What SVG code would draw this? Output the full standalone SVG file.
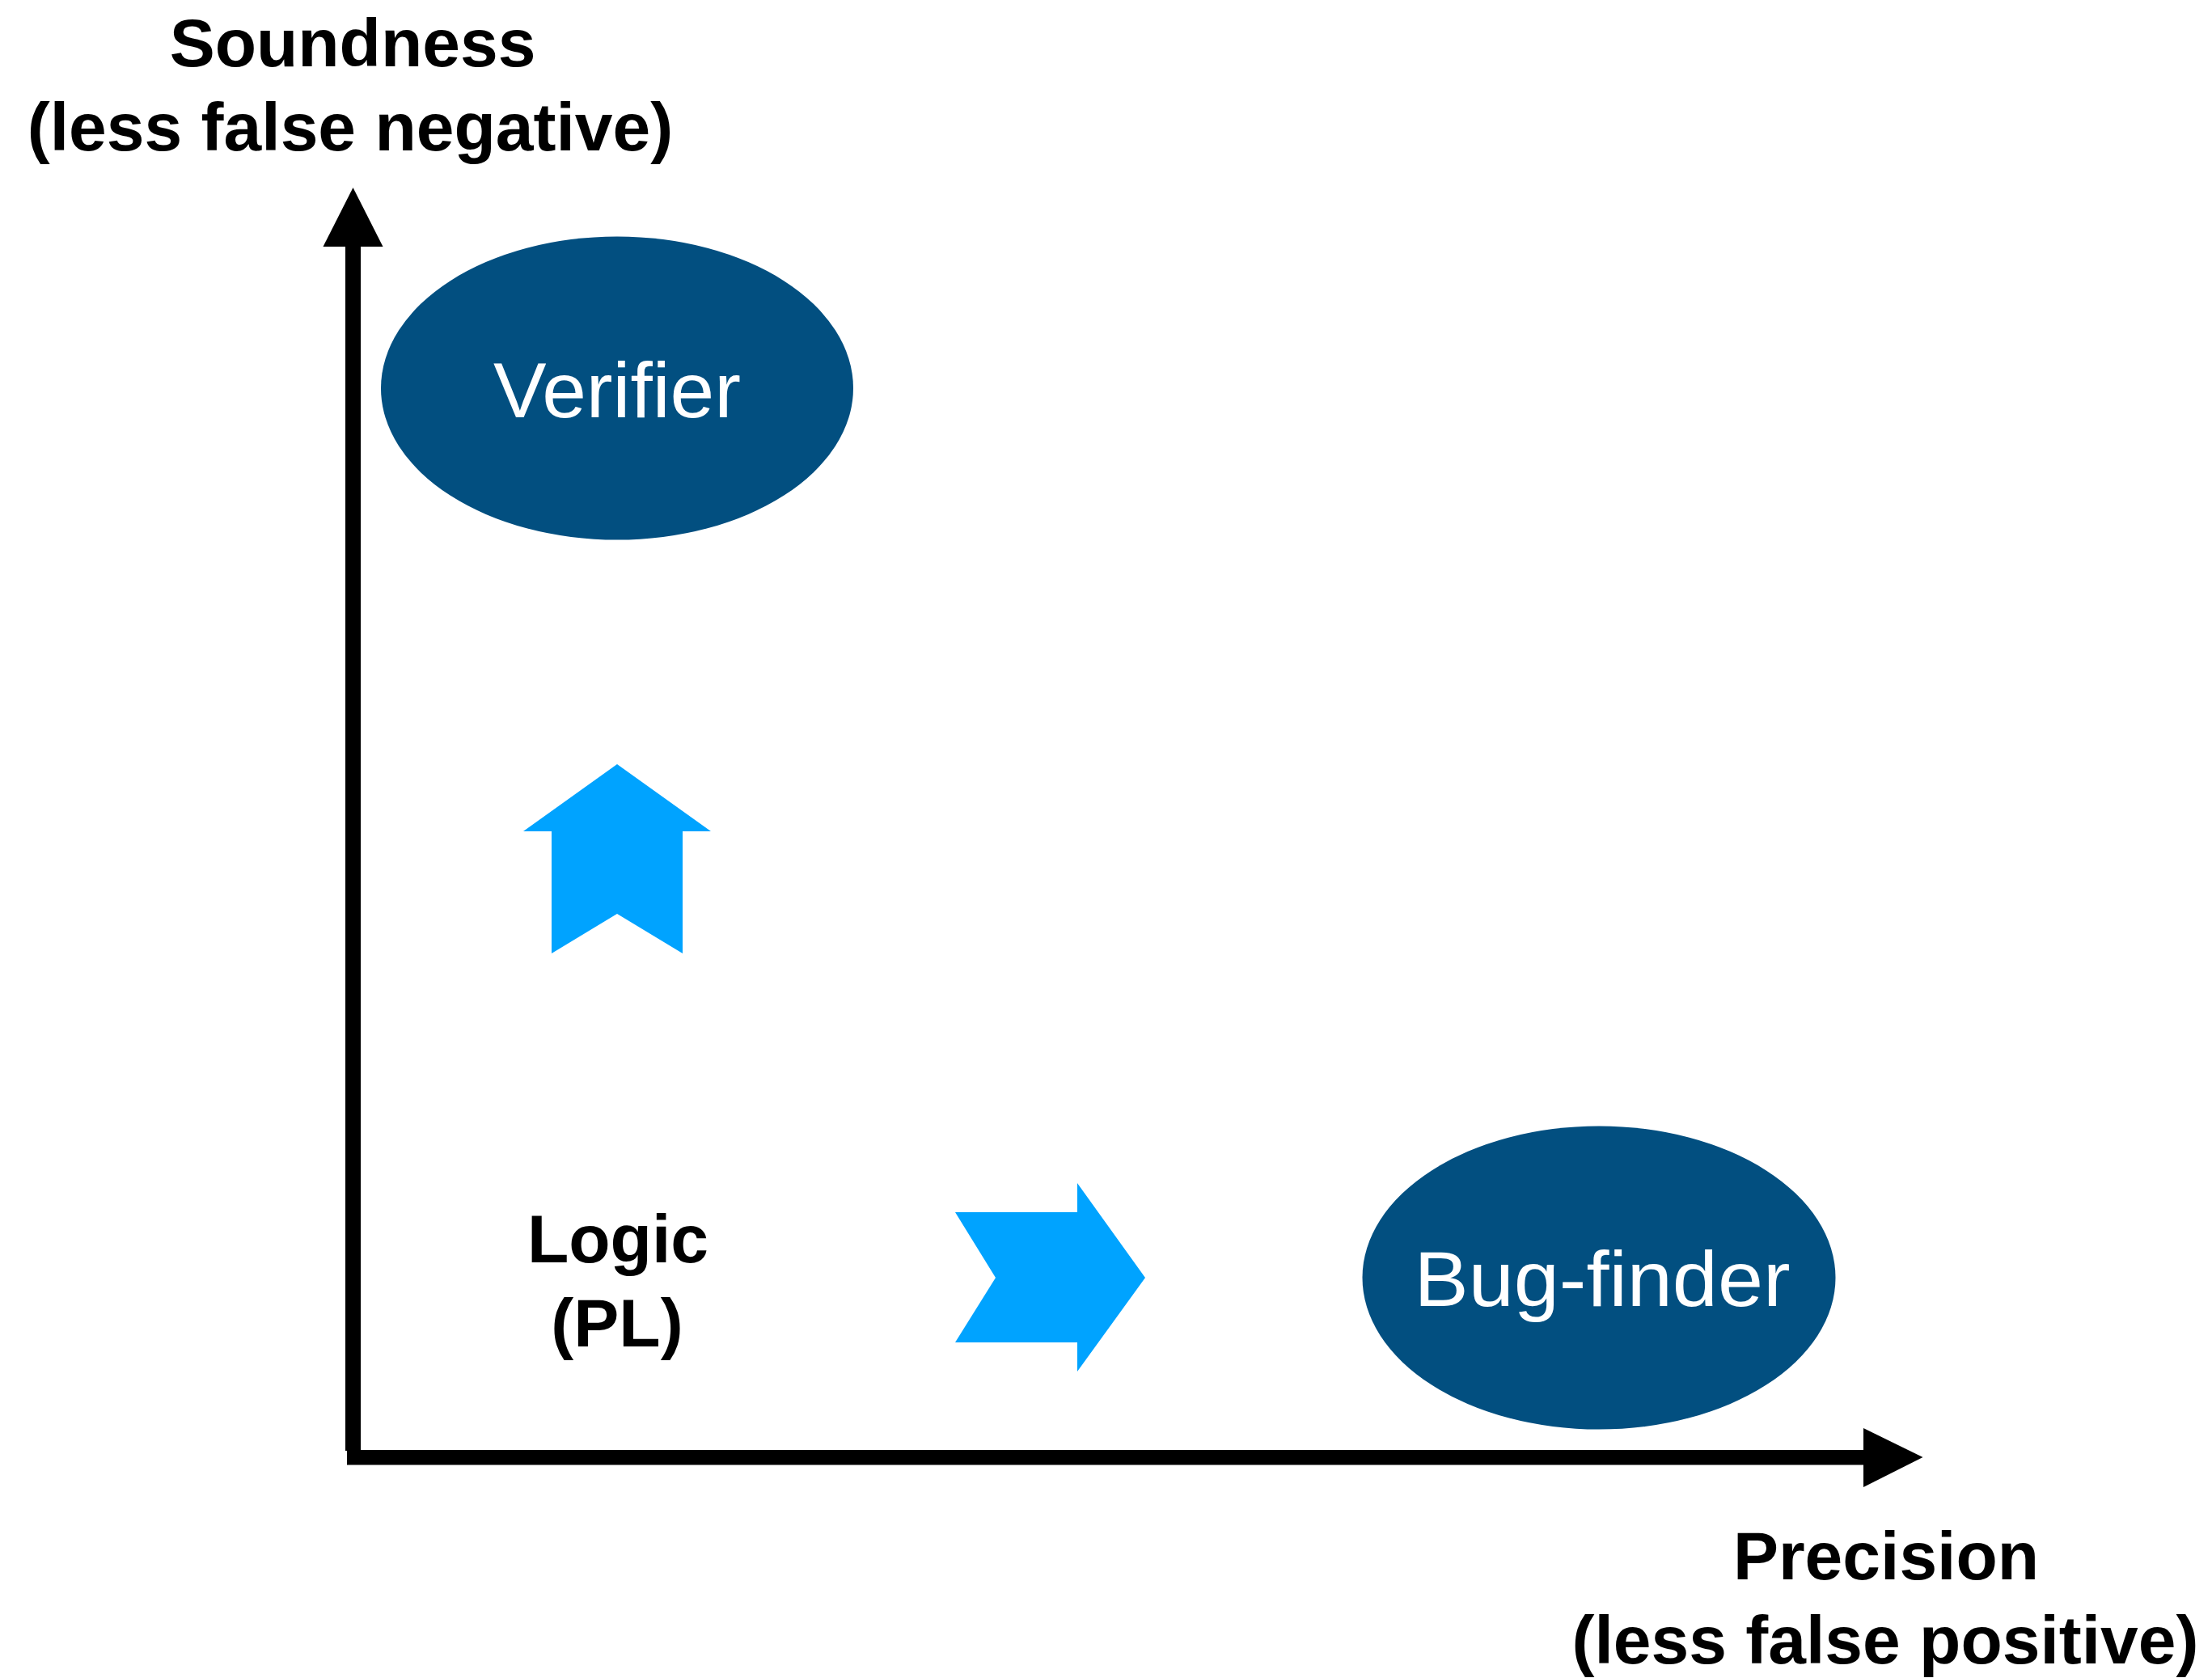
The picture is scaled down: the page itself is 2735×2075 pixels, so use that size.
<svg xmlns="http://www.w3.org/2000/svg" width="2735" height="2075" viewBox="0 0 2735 2075">
  <style>
    .axis { fill: #000000; }
    .node { fill: #024f80; }
    .nodelabel { font-family: "Liberation Sans", Arial, Helvetica, sans-serif; font-size: 96px; fill: #ffffff; text-anchor: middle; }
    .label { font-family: "Liberation Sans", Arial, Helvetica, sans-serif; font-size: 84px; font-weight: bold; fill: #000000; text-anchor: middle; }
    .bluearrow { fill: #00a3ff; }
  </style>
  <rect x="0" y="0" width="2735" height="2075" fill="#ffffff"/>

  <g id="connectors">
    <g id="y-axis">
      <rect class="axis" x="427" y="300" width="19" height="1494"/>
      <polygon class="axis" points="436.5,232 399.5,305 473.5,305"/>
    </g>
    <g id="x-axis">
      <rect class="axis" x="429" y="1793" width="1880" height="18.5"/>
      <polygon class="axis" points="2304,1766 2377.5,1802 2304,1839"/>
    </g>
  </g>

  <g id="y-axis-label">
    <text class="label" x="436" y="82">Soundness</text>
    <text class="label" x="433" y="186">(less false negative)</text>
  </g>

  <g id="x-axis-label">
    <text class="label" x="2332" y="1953">Precision</text>
    <text class="label" x="2331" y="2057">(less false positive)</text>
  </g>

  <g id="verifier">
    <ellipse class="node" cx="763" cy="480" rx="292" ry="187.5"/>
    <text class="nodelabel" x="763" y="516" textLength="306" lengthAdjust="spacingAndGlyphs">Verifier</text>
  </g>

  <g id="bug-finder">
    <ellipse class="node" cx="1977" cy="1580" rx="292.5" ry="187.5"/>
    <text class="nodelabel" x="1981" y="1615" textLength="465" lengthAdjust="spacingAndGlyphs">Bug-finder</text>
  </g>

  <g id="logic">
    <text class="label" x="764" y="1561">Logic</text>
    <text class="label" x="763" y="1665">(PL)</text>
  </g>

  <g id="up-arrow">
    <polygon class="bluearrow" points="763,945 879,1028 844,1028 844,1179 763,1130 682,1179 682,1028 647,1028"/>
  </g>

  <g id="right-arrow">
    <polygon class="bluearrow" points="1181,1499 1332,1499 1332,1463 1416,1580 1332,1696 1332,1660 1181,1660 1231,1580"/>
  </g>
</svg>
